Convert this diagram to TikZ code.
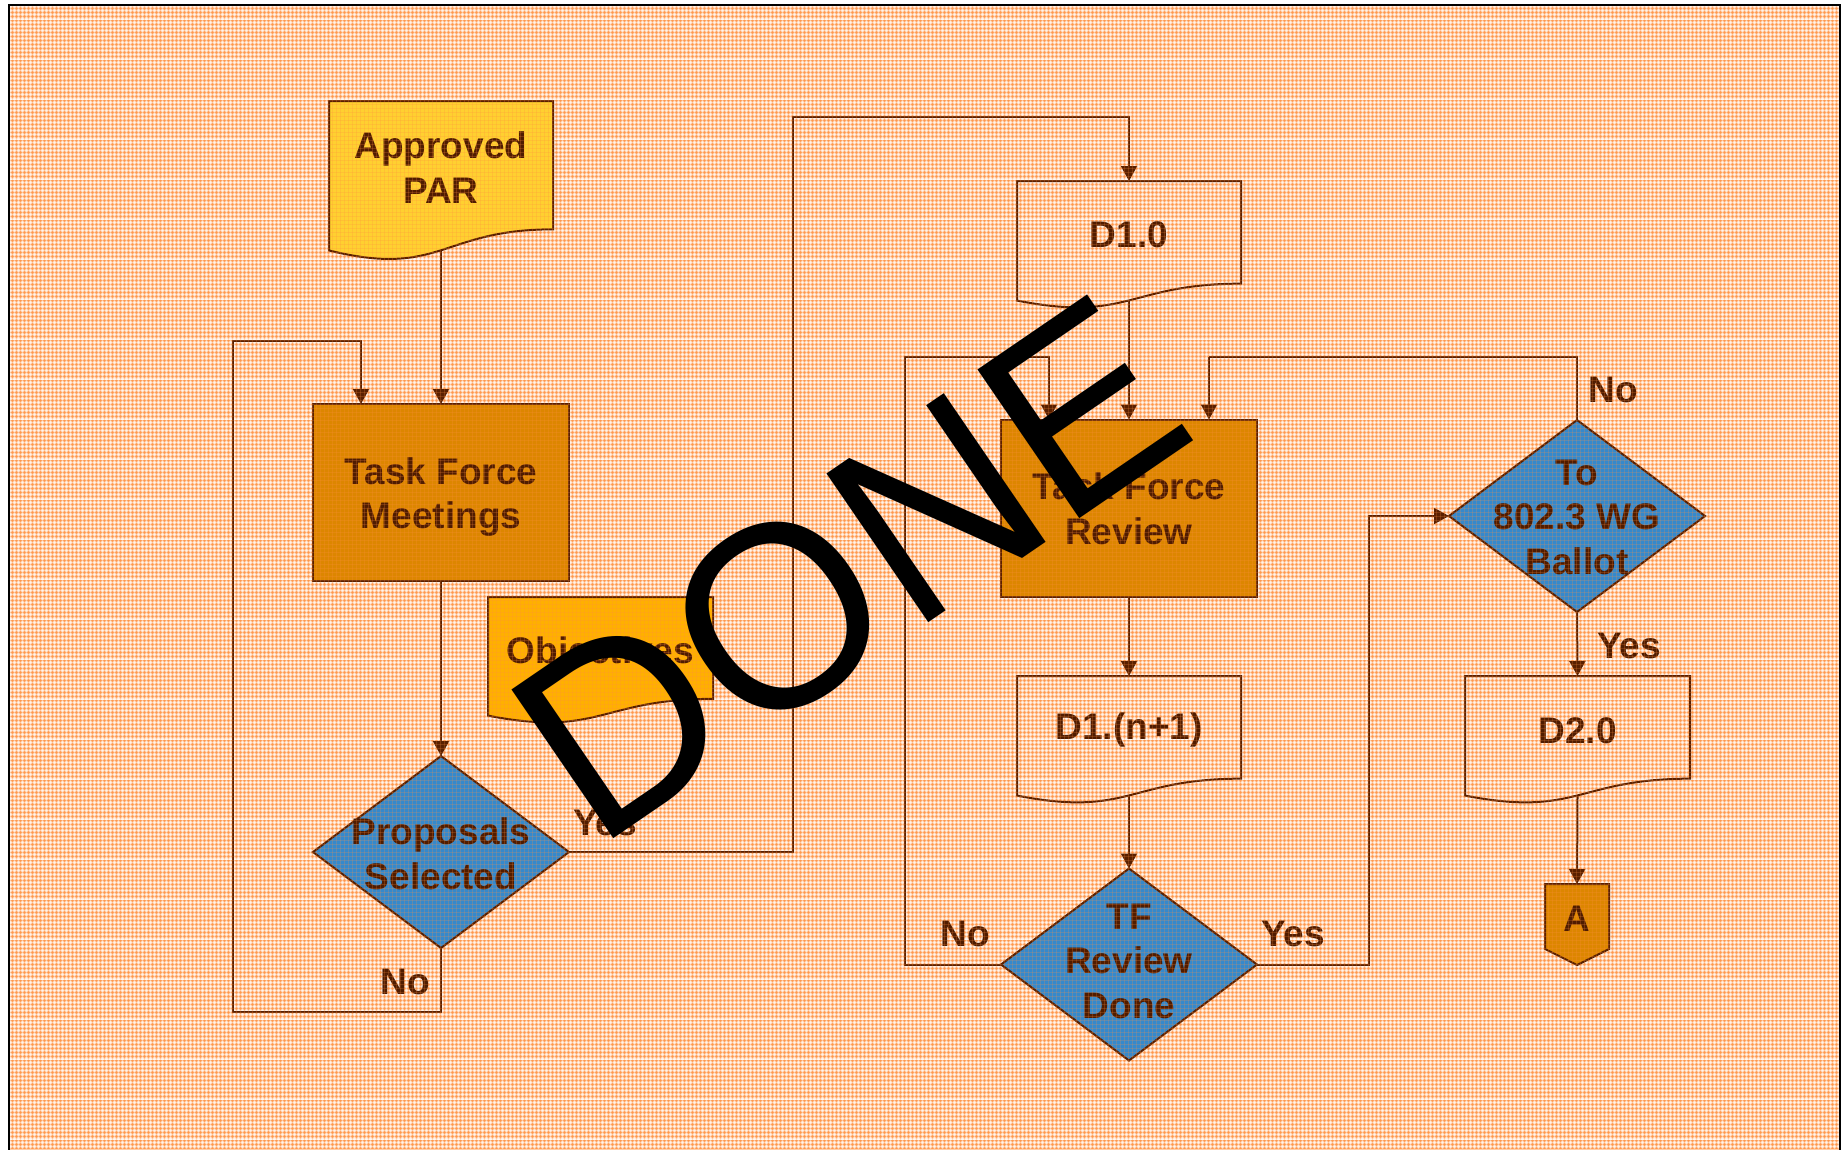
\documentclass[tikz,border=0pt]{standalone}
\usepackage{fontspec}
\setmainfont{Liberation Sans}
\usetikzlibrary{shapes.geometric,arrows.meta}
\definecolor{ink}{HTML}{5A2000}
\definecolor{txt}{HTML}{501C00}
\definecolor{bgc}{HTML}{FFCDA8}
\definecolor{ply}{HTML}{FF9040}
\definecolor{yel}{HTML}{FFD030}
\definecolor{amb}{HTML}{FFB000}
\definecolor{tsk}{HTML}{DD8600}
\definecolor{blu}{HTML}{3589CC}
\tikzset{
  every node/.style={inner sep=0pt,outer sep=0pt},
  lab/.style={font=\fontsize{37}{44.5}\selectfont\bfseries,text=txt,align=center},
  shapeline/.style={draw=ink,line width=2pt,line join=miter},
  boxn/.style={rectangle,shapeline,fill=tsk,minimum width=256pt,minimum height=177pt},
  dia/.style={diamond,shapeline,fill=blu,minimum width=256pt,minimum height=192pt,aspect=1.333},
  conn/.style={draw=ink,line width=2pt,-{Triangle[length=15pt,width=16pt]}},
  connplain/.style={draw=ink,line width=2pt},
  grid-o/.style={draw=ply,line width=1pt},
  grid-w/.style={draw=white,line width=1pt}
}
% name, x, y, w, h, text, fill options, text offset
\newcommand{\docnode}[8]{%
  \path[shapeline,#7] (#2,#3) -- (#2+#4,#3) -- (#2+#4,#3+0.802*#5)
    .. controls (#2+0.5*#4,#3+0.802*#5) and (#2+0.5*#4,#3+1.107*#5) .. (#2,#3+0.934*#5) -- cycle;
  \node[minimum width=#4 pt,minimum height=0.802*#5 pt] (#1) at (#2+0.5*#4,#3+0.401*#5) {};
  \node[lab] (#1-t) at (#2+0.5*#4,#3+0.401*#5+#8) {#6};
  \coordinate (#1-b) at (#2+0.5*#4,#3+0.933*#5);
}
\begin{document}
\begin{tikzpicture}[x=1pt,y=-1pt]
\useasboundingbox (0,0) rectangle (1847,1149);
\clip (0,0) rectangle (1847,1149);
\fill[white] (0,0) rectangle (1847,1149);
\fill[bgc] (9,5) rectangle (1840,1160);
\begin{scope}
\clip (9,5) rectangle (1840,1160);
\draw[grid-o,opacity=.55] foreach \k in {0,4,...,1848} {(\k+.5,0) -- (\k+.5,1149)};
\draw[grid-o,opacity=.55] foreach \k in {0,4,...,1148} {(0,\k+.5) -- (1847,\k+.5)};
\draw[grid-w,opacity=.55] foreach \k in {2,6,...,1848} {(\k+.5,0) -- (\k+.5,1149)};
\draw[grid-w,opacity=.55] foreach \k in {2,6,...,1148} {(0,\k+.5) -- (1847,\k+.5)};
\draw[grid-w,opacity=.8] foreach \k in {20,60,...,1140} {(0,\k-.5) -- (1847,\k-.5)};
\end{scope}

% shapes
\docnode{par}{329}{101}{224}{160}{Approved\\PAR}{fill=yel}{2.5}
\docnode{obj}{488}{597}{225}{127}{Objectives}{fill=amb}{6}
\docnode{dten}{1017}{181}{224}{128}{D1.0}{}{2.5}
\docnode{dn}{1017}{676}{224}{128}{D1.(n+1)}{}{3}
\docnode{dtwo}{1465}{676}{225}{128}{D2.0}{}{3}
\node[boxn] (tfm) at (441,492.5) {};
\node[lab] (tfm-t) at (441,497) {Task Force\\Meetings};
\node[boxn] (tfr) at (1129,508) {};
\node[lab] (tfr-t) at (1129,509) {Task Force\\Review};
\node[dia] (prop) at (441,852) {};
\node[lab] (prop-t) at (441,854) {Proposals\\Selected};
\node[dia] (tfd) at (1129,964.5) {};
\node[lab] (tfd-t) at (1129,961) {TF\\Review\\Done};
\node[dia] (wg) at (1577,516) {};
\node[lab] (wg-t) at (1577,517) {To\\802.3 WG\\Ballot};
\path[shapeline,fill=tsk] (1545,884) -- (1609,884) -- (1609,949) -- (1577,965) -- (1545,949) -- cycle;
\node[lab,minimum width=64pt,minimum height=69pt] (a) at (1577,918.5) {A};

% bends and free ends
\coordinate (c1) at (793,117);
\coordinate (c2) at (233,1012);
\coordinate (c3) at (233,341);
\coordinate (tfmin) at (361,404);
\coordinate (c4) at (905,357);
\coordinate (tfrl) at (1049,419.5);
\coordinate (c5) at (1369,516);
\coordinate (c6) at (1209,357);
\coordinate (tfrr) at (1209,419.5);

% connectors
\draw[conn] (par-b) -- (tfm.north);
\draw[conn] (tfm.south) -- (prop.north);
\draw[conn] (prop.east) -| (c1) -| (dten.north);
\draw[conn] (prop.south) |- (c2) -- (c3) -| (tfmin);
\draw[conn] (dten-b) -- (tfr.north);
\draw[conn] (tfr.south) -- (dn.north);
\draw[conn] (dn-b) -- (tfd.north);
\draw[conn] (tfd.west) -| (c4) -| (tfrl);
\draw[conn] (tfd.east) -| (c5) -- (wg.west);
\draw[connplain] (wg.north) |- (c6);
\draw[conn] (c6) -- (tfrr);
\draw[conn] (wg.south) -- (dtwo.north);
\draw[conn] (dtwo-b) -- (a.north);

% labels
\node[lab] (l1) at (605,823) {Yes};
\node[lab] (l2) at (405,982) {No};
\node[lab] (l3) at (965,934) {No};
\node[lab] (l4) at (1293,934) {Yes};
\node[lab] (l5) at (1613,390) {No};
\node[lab] (l6) at (1629,646) {Yes};

% fine weave over everything except the frame and the stamp
\begin{scope}
\clip (9,5) rectangle (1840,1160);
\draw[grid-o,opacity=.22] foreach \k in {0,4,...,1848} {(\k+.5,0) -- (\k+.5,1149)};
\draw[grid-o,opacity=.22] foreach \k in {0,4,...,1148} {(0,\k+.5) -- (1847,\k+.5)};
\end{scope}

% frame
\draw[black,line width=2.5pt] (9,1160) -- (9,5) -- (1840,5) -- (1840,1160);

% stamp
\node[rotate=34.4,anchor=base west,font=\fontsize{262}{262}\selectfont,text=black] (stamp) at (596,850) {\scalebox{0.972}[1]{DONE}};
\end{tikzpicture}
\end{document}
